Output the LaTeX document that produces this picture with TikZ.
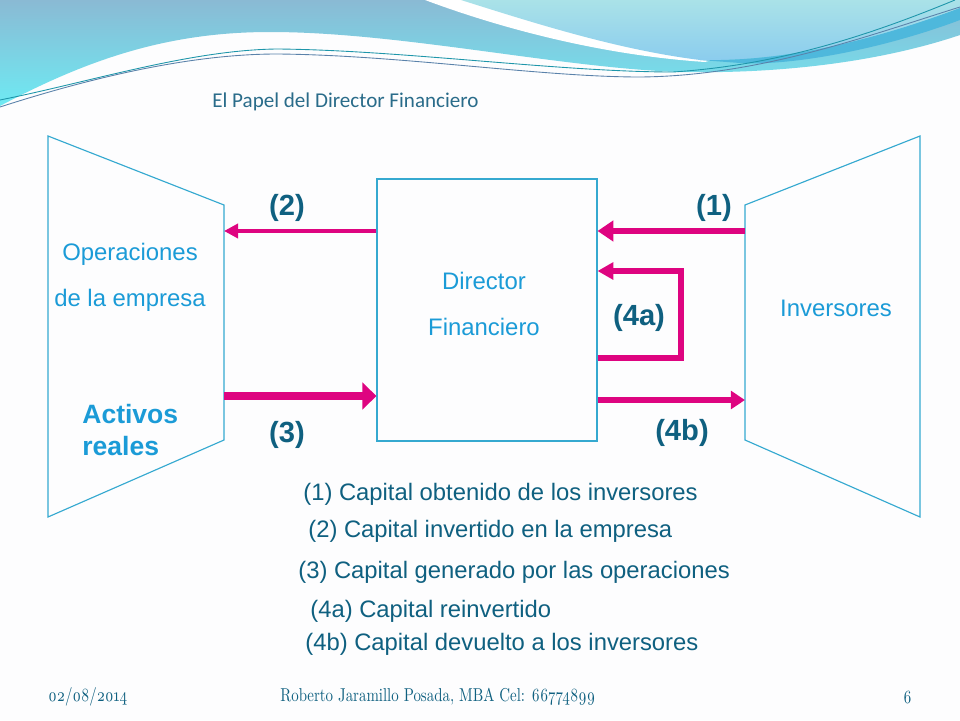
\documentclass[tikz,border=0pt]{standalone}
\usepackage{fontspec}
\setmainfont{Liberation Sans}
\newfontfamily\titlefont{Carlito}
\newfontfamily\footfont[Numbers=OldStyle,FakeStretch=0.8]{Latin Modern Roman}
\usetikzlibrary{arrows.meta}
\definecolor{pagewhite}{HTML}{FDFDFE}
\definecolor{linecyan}{HTML}{35A9D0}
\definecolor{textblue}{HTML}{1B9BD7}
\definecolor{labelblue}{HTML}{0F6080}
\definecolor{flowpink}{HTML}{DE0480}
\definecolor{titleblue}{HTML}{2A6C8A}
\tikzset{
  panel/.style={draw=linecyan,line width=0.65pt},
  body/.style={text=textblue,font=\fontsize{13.6}{16}\selectfont,inner sep=0pt},
  realtext/.style={text=textblue,font=\bfseries\fontsize{15.1}{18}\selectfont,inner sep=0pt,anchor=west},
  tag/.style={text=labelblue,font=\bfseries\fontsize{16.6}{20}\selectfont,inner sep=0pt},
  item/.style={text=labelblue,font=\fontsize{13.55}{16}\selectfont,inner sep=0pt,anchor=west},
  foot/.style={text=labelblue,font=\footfont\fontsize{10.6}{13}\selectfont,inner sep=0pt},
  flow/.style={color=flowpink,line width=#1}
}
\begin{document}
\begin{tikzpicture}[x=0.02cm,y=-0.02cm]
  \useasboundingbox (0,0) rectangle (960,720);
  \fill[pagewhite] (0,0) rectangle (960,720);
  % top band
  \begin{scope}
    \clip (0,0) rectangle (960,720);
    \shade[top color={rgb,255:red,138;green,186;blue,212},bottom color={rgb,255:red,110;green,234;blue,243}]
      (0,0) -- (0,106) .. controls (90,58) and (170,32) .. (270,32)
      .. controls (400,32) and (560,68) .. (680,72)
      .. controls (780,74) and (880,62) .. (960,35) -- (960,0) -- cycle;
    \fill[white] (425,0) .. controls (500,28) and (600,55) .. (705,62) -- (780,40) -- (780,0) -- cycle;
    \shade[top color={rgb,255:red,170;green,226;blue,232},bottom color={rgb,255:red,138;green,204;blue,238}]
      (461,0) .. controls (540,25) and (620,50) .. (700,60)
      .. controls (780,62) and (880,40) .. (960,8) -- (960,0) -- cycle;
    \fill[fill={rgb,255:red,78;green,184;blue,220}]
      (700,60) .. controls (790,62) and (880,38) .. (960,8) -- (960,20)
      .. controls (880,50) and (790,66) .. (740,63) -- cycle;
    \draw[draw={rgb,255:red,30;green,150;blue,170},line width=0.5pt]
      (0,100) .. controls (90,82) and (190,50) .. (277,49)
      .. controls (400,50) and (560,72) .. (673,72)
      .. controls (780,65) and (870,35) .. (955,0);
    \draw[draw={rgb,255:red,90;green,130;blue,170},line width=0.5pt]
      (0,107) .. controls (90,78) and (190,54) .. (277,54)
      .. controls (400,55) and (540,77) .. (640,77)
      .. controls (760,76) and (870,35) .. (960,7);
  \end{scope}
  \node[text=titleblue,font=\titlefont\fontsize{12}{14}\selectfont,inner sep=0pt] (title) at (345.5,102) {El Papel del Director Financiero};
  % the three blocks
  \draw[panel] (48,136) -- (224,205) -- (224,440) -- (48,517) -- cycle;
  \draw[panel] (920,136) -- (745,205) -- (745,440) -- (920,517) -- cycle;
  \node[panel,minimum width=4.4cm,minimum height=5.24cm,inner sep=0pt] (dir) at (487,310) {};
  \coordinate (opsA) at (224,231);
  \coordinate (opsB) at (224,396);
  \coordinate (invA) at (745,231);
  \coordinate (invB) at (745,400);
  \coordinate (backA) at (681,358);
  \coordinate (backB) at (681,271);
  % flows
  \path[flow=2.3pt,-{Triangle[length=8pt,width=8pt]}] (dir.west |- opsA) edge (opsA);
  \path[flow=4pt,-{Triangle[length=8pt,width=15pt]}] (opsB) edge (dir.west |- opsB);
  \path[flow=3.4pt,-{Triangle[length=9pt,width=11.5pt]}] (invA) edge (dir.east |- invA);
  \path[flow=3pt,-{Triangle[length=8pt,width=10pt]}] (dir.east |- invB) edge (invB);
  \draw[flow=3.2pt,-{Triangle[length=9pt,width=9.5pt]}] (dir.east |- backA) -- (backA) -- (backB) -- (dir.east |- backB);
  % labels
  \node[tag] (t2) at (287,208) {(2)};
  \node[tag] (t1) at (714,208) {(1)};
  \node[tag] (t4a) at (639,318) {(4a)};
  \node[tag] (t3) at (287,435) {(3)};
  \node[tag] (t4b) at (682,433) {(4b)};
  \node[body] (ops1) at (130,254) {Operaciones};
  \node[body] (ops2) at (130,300) {de la empresa};
  \node[realtext] (real1) at (82,414) {Activos};
  \node[realtext] (real2) at (82,446) {reales};
  \node[body] (dir1) at (484,281) {Director};
  \node[body] (dir2) at (484,327) {Financiero};
  \node[body] (inv) at (836,308) {Inversores};
  % legend
  \node[item] (l1) at (303,494) {(1) Capital obtenido de los inversores};
  \node[item] (l2) at (308,531) {(2) Capital invertido en la empresa};
  \node[item] (l3) at (298,572) {(3) Capital generado por las operaciones};
  \node[item] (l4) at (310,611) {(4a) Capital reinvertido};
  \node[item] (l5) at (305,644) {(4b) Capital devuelto a los inversores};
  % footer
  \node[foot,anchor=west] (date) at (48,697) {02/08/2014};
  \node[foot,anchor=west] (name) at (280,697) {Roberto Jaramillo Posada, MBA Cel: 66774899};
  \node[foot,anchor=east] (page) at (912,697) {6};
\end{tikzpicture}
\end{document}
